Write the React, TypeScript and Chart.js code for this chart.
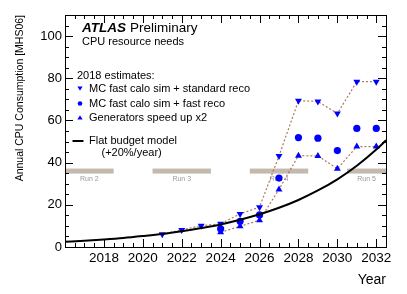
import React, { useEffect, useRef } from "react";
import { Chart, registerables } from "chart.js";
Chart.register(...registerables);

// ---- data ----
const stdRecoYears = [2021, 2022, 2023, 2024, 2025, 2026, 2027, 2028, 2029, 2030, 2031, 2032];
const stdReco = [6.0, 8.1, 10.1, 11.0, 15.7, 18.9, 43.2, 69.4, 69.0, 63.3, 78.4, 78.4];
const fastRecoYears = [2024, 2025, 2026, 2027, 2028, 2029, 2030, 2031, 2032];
const fastReco = [8.6, 12.2, 15.2, 32.7, 51.9, 51.6, 45.7, 56.2, 56.2];
const genYears = [2024, 2025, 2026, 2027, 2028, 2029, 2030, 2031, 2032];
const genSpeedup = [7.0, 9.8, 12.7, 27.3, 43.3, 43.2, 37.1, 47.6, 47.6];
const budgetYears = [2016, 2017, 2018, 2019, 2020, 2021, 2022, 2023, 2024, 2025, 2026, 2027, 2028, 2029, 2030, 2031, 2032, 2032.5];
const budget = [2.5, 3.0, 3.6, 4.3, 5.2, 6.2, 7.5, 9.0, 10.7, 12.9, 15.5, 18.6, 22.3, 26.8, 32.1, 38.5, 46.2, 50.6];
const runLabels = ["Run 2", "Run 3", "Run 4", "Run 5"];
const runStart = [2016, 2020.5, 2025.5, 2030.5];
const runEnd = [2018.5, 2023.5, 2028.5, 2032.5];
const runLevel = 36;
const xTickYears = [2018, 2020, 2022, 2024, 2026, 2028, 2030, 2032];
const yTickValues = [0, 20, 40, 60, 80, 100];
const legendTitle = "2018 estimates:";
const legendLabels = ["MC fast calo sim + standard reco", "MC fast calo sim + fast reco", "Generators speed up x2"];
const budgetLabel = ["Flat budget model", "(+20%/year)"];
const yTitle = "Annual CPU Consumption [MHS06]";
const xTitle = "Year";

const FONT = "'Liberation Sans', Arial, Helvetica, sans-serif";
const BLUE = "#0000ff";
const DOT = "#a8785f";

const pts = (xs: number[], ys: number[]) => xs.map((x, i) => ({ x, y: ys[i] }));

function drawMarker(ctx: CanvasRenderingContext2D, kind: string, x: number, y: number, r: number) {
  ctx.fillStyle = BLUE;
  ctx.beginPath();
  if (kind === "circle") {
    ctx.arc(x, y, r, 0, Math.PI * 2);
  } else if (kind === "down") {
    ctx.moveTo(x - r, y - r * 0.8);
    ctx.lineTo(x + r, y - r * 0.8);
    ctx.lineTo(x, y + r * 0.9);
  } else {
    ctx.moveTo(x - r, y + r * 0.8);
    ctx.lineTo(x + r, y + r * 0.8);
    ctx.lineTo(x, y - r * 0.9);
  }
  ctx.closePath();
  ctx.fill();
}

const framePlugin = {
  id: "rootFrame",
  beforeDatasetsDraw(chart: any) {
    const { ctx } = chart;
    const xs = chart.scales.x;
    const ys = chart.scales.y;
    ctx.save();
    ctx.font = `7px ${FONT}`;
    ctx.textAlign = "center";
    ctx.textBaseline = "middle";
    const yb = ys.getPixelForValue(runLevel);
    runLabels.forEach((lab, i) => {
      const x0 = xs.getPixelForValue(runStart[i]);
      const x1 = xs.getPixelForValue(runEnd[i]);
      ctx.fillStyle = "#c4b9ae";
      ctx.fillRect(x0, yb - 2.5, x1 - x0, 5);
      ctx.fillStyle = "#9a9a9a";
      ctx.fillText(lab, (x0 + x1) / 2, yb + 8);
    });
    ctx.restore();
  },
  afterDraw(chart: any) {
    const { ctx, chartArea: a } = chart;
    const xs = chart.scales.x;
    const ys = chart.scales.y;
    ctx.save();
    ctx.strokeStyle = "#000";
    ctx.lineWidth = 1;
    ctx.strokeRect(Math.round(a.left) + 0.5, Math.round(a.top) + 0.5, Math.round(a.right - a.left), Math.round(a.bottom - a.top));
    ctx.beginPath();
    for (let v = 0; v <= 110; v += 5) {
      const p = Math.round(ys.getPixelForValue(v)) + 0.5;
      const L = v % 20 === 0 ? 8 : 4;
      ctx.moveTo(a.left, p); ctx.lineTo(a.left + L, p);
      ctx.moveTo(a.right, p); ctx.lineTo(a.right - L, p);
    }
    for (let v = 2016; v <= 2032.5; v += 0.5) {
      const p = Math.round(xs.getPixelForValue(v)) + 0.5;
      const L = v % 2 === 0 ? 8 : 4;
      ctx.moveTo(p, a.bottom); ctx.lineTo(p, a.bottom - L);
      ctx.moveTo(p, a.top); ctx.lineTo(p, a.top + L);
    }
    ctx.stroke();

    // titles
    ctx.fillStyle = "#000";
    ctx.font = `10.5px ${FONT}`;
    ctx.save();
    ctx.translate(20, a.top);
    ctx.rotate(-Math.PI / 2);
    ctx.textAlign = "right";
    ctx.textBaseline = "middle";
    ctx.fillText(yTitle, 0, 0);
    ctx.restore();
    ctx.font = `14px ${FONT}`;
    ctx.textAlign = "right";
    ctx.textBaseline = "middle";
    ctx.fillText(xTitle, a.right, 280);

    // ATLAS label
    ctx.textAlign = "left";
    ctx.textBaseline = "alphabetic";
    ctx.font = `italic bold 13.5px ${FONT}`;
    ctx.fillText("ATLAS", 82, 32);
    const w = ctx.measureText("ATLAS").width;
    ctx.font = `13.5px ${FONT}`;
    ctx.fillText("Preliminary", 82 + w + 4, 32);
    ctx.font = `11px ${FONT}`;
    ctx.fillText("CPU resource needs", 82, 44.5);

    // legend
    ctx.textBaseline = "middle";
    ctx.fillText(legendTitle, 77, 76);
    const kinds = ["down", "circle", "up"];
    const ly = [88.5, 103.5, 117.5];
    legendLabels.forEach((lab, i) => {
      drawMarker(ctx, kinds[i], 80, ly[i], kinds[i] === "circle" ? 2.3 : 2.6);
      ctx.fillStyle = "#000";
      ctx.fillText(lab, 89, ly[i]);
    });
    ctx.strokeStyle = "#000";
    ctx.lineWidth = 2;
    ctx.beginPath();
    ctx.moveTo(72.5, 141); ctx.lineTo(83.5, 141);
    ctx.stroke();
    ctx.fillText(budgetLabel[0], 89, 141);
    ctx.fillText(budgetLabel[1], 101.5, 153);
    ctx.restore();
  },
};

export default function App() {
  const ref = useRef<HTMLCanvasElement>(null);
  useEffect(() => {
    if (!ref.current) return;
    const dotted = { borderColor: DOT, borderWidth: 1.2, borderDash: [2, 2], showLine: true };
    const chart = new Chart(ref.current, {
      type: "scatter",
      data: {
        datasets: [
          {
            label: "budget",
            data: pts(budgetYears, budget),
            showLine: true,
            borderColor: "#000",
            borderWidth: 2,
            pointRadius: 0,
            cubicInterpolationMode: "monotone",
            order: 0,
          } as any,
          {
            label: legendLabels[0],
            data: pts(stdRecoYears, stdReco),
            ...dotted,
            pointStyle: "triangle",
            rotation: 180,
            pointRadius: 4,
            pointBackgroundColor: BLUE,
            pointBorderColor: BLUE,
            pointBorderWidth: 0,
            order: 1,
          } as any,
          {
            label: legendLabels[1],
            data: pts(fastRecoYears, fastReco),
            showLine: false,
            pointStyle: "circle",
            pointRadius: 3.6,
            pointBackgroundColor: BLUE,
            pointBorderColor: BLUE,
            pointBorderWidth: 0,
            order: 2,
          } as any,
          {
            label: legendLabels[2],
            data: pts(genYears, genSpeedup),
            ...dotted,
            pointStyle: "triangle",
            pointRadius: 4,
            pointBackgroundColor: BLUE,
            pointBorderColor: BLUE,
            pointBorderWidth: 0,
            order: 3,
          } as any,
        ],
      },
      options: {
        animation: false,
        responsive: false,
        layout: { padding: { left: 0, top: 15, right: 21, bottom: 0 } },
        plugins: { legend: { display: false }, tooltip: { enabled: false } },
        scales: {
          x: {
            type: "linear",
            min: 2016,
            max: 2032.5,
            grid: { display: false, drawTicks: false },
            border: { display: false },
            afterBuildTicks: (s: any) => { s.ticks = xTickYears.map((v) => ({ value: v })); },
            afterFit: (s: any) => { s.height = 47; },
            ticks: {
              padding: 3,
              color: "#000",
              font: { family: FONT, size: 13.5 },
              callback: (v: any) => String(v),
              maxRotation: 0,
              autoSkip: false,
            },
          },
          y: {
            type: "linear",
            min: 0,
            max: 110,
            grid: { display: false, drawTicks: false },
            border: { display: false },
            afterBuildTicks: (s: any) => { s.ticks = yTickValues.map((v) => ({ value: v })); },
            afterFit: (s: any) => { s.width = 65; },
            ticks: {
              padding: 3,
              color: "#000",
              font: { family: FONT, size: 13 },
              callback: (v: any) => String(v),
            },
          },
        },
      },
      plugins: [framePlugin],
    } as any);
    return () => chart.destroy();
  }, []);
  return (
    <div style={{ position: "fixed", left: 0, top: 0, width: 407, height: 294, background: "#fff" }}>
      <canvas ref={ref} width={407} height={294} style={{ display: "block" }} />
    </div>
  );
}
